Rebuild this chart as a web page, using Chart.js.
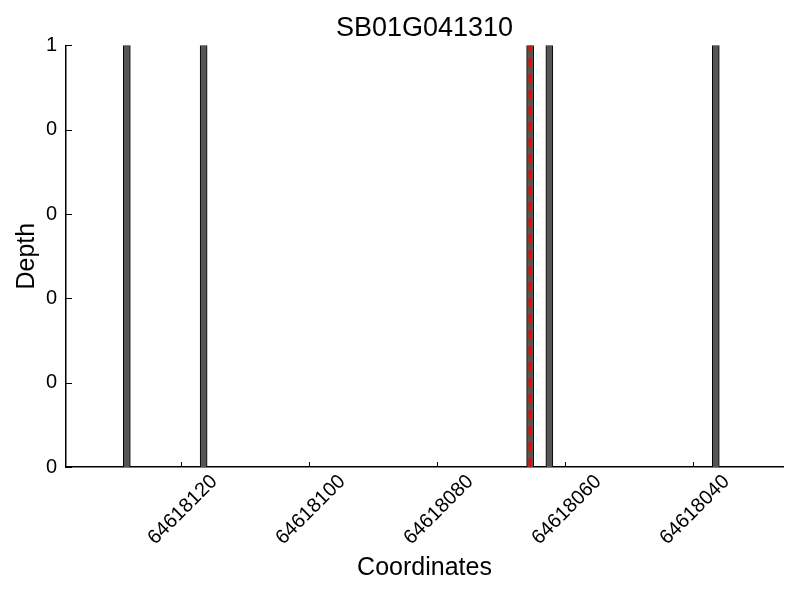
<!DOCTYPE html>
<html>
<head>
<meta charset="utf-8">
<script src="https://cdn.jsdelivr.net/npm/chart.js@4.4.1/dist/chart.umd.min.js"></script>
<style>
  body { margin: 0; background: #fff; }
  #wrap { width: 800px; height: 600px; }
</style>
</head>
<body>
<div id="wrap"><canvas id="depth-chart" width="800" height="600"></canvas></div>
<script>
const positions = [64618128.5, 64618116.5, 64618065.5, 64618062.5, 64618036.5];
const depths = [1, 1, 1, 1, 1];
const markerPos = [64618065.5, 64618065.5];
const markerDepth = [0, 1];
const xTickValues = [64618120, 64618100, 64618080, 64618060, 64618040];
const yTickValues = [0, 0.2, 0.4, 0.6, 0.8, 1];
const yTickLabels = ['0', '0', '0', '0', '0', '1'];

// matplotlib style ticks pointing into the plot
const innerTicks = {
    id: 'innerTicks',
    afterDraw(chart) {
        const ctx = chart.ctx;
        const x = chart.scales.x, y = chart.scales.y;
        ctx.save();
        ctx.strokeStyle = '#000';
        ctx.lineWidth = 1;
        ctx.beginPath();
        xTickValues.forEach(v => {
            const px = Math.round(x.getPixelForValue(v)) + 0.5;
            ctx.moveTo(px, y.bottom);
            ctx.lineTo(px, y.bottom - 5);
        });
        yTickValues.forEach(v => {
            const py = Math.round(y.getPixelForValue(v)) + 0.5;
            ctx.moveTo(x.left, py);
            ctx.lineTo(x.left + 6, py);
        });
        ctx.stroke();
        ctx.restore();
    }
};

const ctx = document.getElementById('depth-chart').getContext('2d');
new Chart(ctx, {
    type: 'bar',
    data: {
        datasets: [{
            type: 'line',
            data: markerPos.map((p, i) => ({ x: p, y: markerDepth[i] })),
            borderColor: '#ff0000',
            borderWidth: 3,
            borderDash: [9, 7],
            pointRadius: 0,
            fill: false,
            order: 0,
        }, {
            data: positions.map((p, i) => ({ x: p, y: depths[i] })),
            backgroundColor: '#555555',
            borderColor: '#000000',
            borderWidth: 1,
            barThickness: 7,
            grouped: false,
            order: 1,
        }],
    },
    options: {
        responsive: false,
        animation: false,
        layout: { padding: { left: 0, right: 17, top: 0, bottom: 0 } },
        scales: {
            x: {
                type: 'linear',
                reverse: true,
                min: 64618026,
                max: 64618138,
                offset: false,
                grid: { display: false, drawTicks: false },
                border: { color: '#000', width: 1.5 },
                afterBuildTicks: s => { s.ticks = xTickValues.map(v => ({ value: v })); },
                afterFit: s => { s.height = 133; },
                ticks: {
                    color: '#000',
                    font: { family: 'Liberation Sans', size: 20 },
                    minRotation: 45,
                    maxRotation: 45,
                    padding: 3,
                    labelOffset: 33,
                    callback: v => String(v),
                },
                title: {
                    display: true,
                    text: 'Coordinates',
                    color: '#000',
                    font: { family: 'Liberation Sans', size: 25 },
                    padding: { top: 0, bottom: 17 },
                },
            },
            y: {
                min: 0,
                max: 1,
                grid: { display: false, drawTicks: false },
                border: { color: '#000', width: 1.5 },
                afterBuildTicks: s => { s.ticks = yTickValues.map(v => ({ value: v })); },
                afterFit: s => { s.width = 66; },
                ticks: {
                    color: '#000',
                    font: { family: 'Liberation Sans', size: 20 },
                    padding: 9,
                    callback: (v, i) => yTickLabels[i],
                },
                title: {
                    display: true,
                    text: 'Depth',
                    color: '#000',
                    font: { family: 'Liberation Sans', size: 25 },
                    padding: { top: 12, bottom: 0 },
                },
            },
        },
        plugins: {
            legend: { display: false },
            tooltip: { enabled: false },
            title: {
                display: true,
                fullSize: false,
                text: 'SB01G041310',
                color: '#000',
                font: { family: 'Liberation Sans', size: 27, weight: 'normal' },
                padding: { top: 12, bottom: 1 },
            },
        },
    },
    plugins: [innerTicks],
});
</script>
</body>
</html>
